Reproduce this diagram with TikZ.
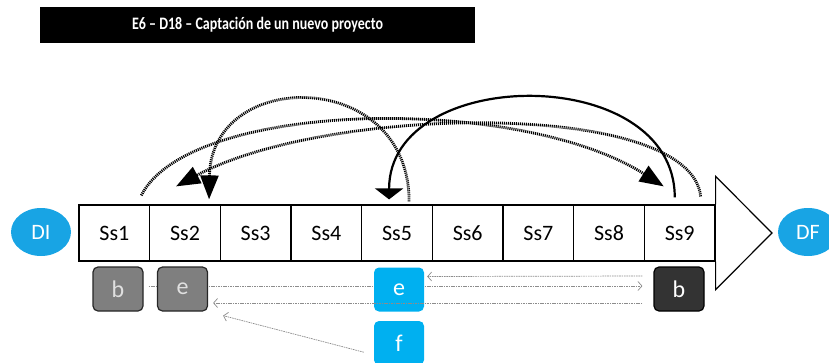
\documentclass[tikz,border=0pt]{standalone}
\usepackage{fontspec}
\setmainfont{Carlito}
\usepackage{tikz}
\usetikzlibrary{arrows.meta,shapes.geometric,backgrounds}
\definecolor{skyblue}{HTML}{00B0F0}
\definecolor{ovalblue}{HTML}{18A4E4}
\definecolor{boxgray}{HTML}{7F7F7F}
\definecolor{boxdark}{HTML}{333333}
\definecolor{linkgray}{HTML}{8C8C8C}

\begin{document}
\begin{tikzpicture}[x=1pt,y=-1pt,
  every node/.style={font=\fontsize{22}{26}\selectfont, inner sep=0pt},
  cell/.style={draw, line width=1.2pt, minimum width=70.67pt, minimum height=56pt},
  ends/.style={ellipse, fill=ovalblue, text=white,
    minimum width=60pt, minimum height=48pt},
  tag/.style={rounded corners=5pt, minimum width=50pt, minimum height=44pt,
    text=white, font=\fontsize{24}{28}\selectfont},
  graybox/.style={tag, draw=black!85, line width=1.2pt, fill=boxgray, text=black!12},
  darkbox/.style={tag, draw=black, line width=1.2pt, fill=boxdark},
  bluebox/.style={tag, fill=skyblue},
  link/.style={draw=linkgray, line width=0.7pt, dash pattern=on 1.6pt off 0.8pt,
    -{Straight Barb[length=4pt,width=9pt]}},
  flow/.style={line width=2.8pt, dash pattern=on 1.1pt off 0.9pt,
    -{Triangle[length=24pt,width=18pt]}},
  backflow/.style={line width=2.2pt, -{Triangle[length=11pt,width=28pt]}}]
  \useasboundingbox (0,0) rectangle (829,362);
  \node[fill=black, text=white, minimum width=435pt, minimum height=36pt,
    font=\fontsize{17.5}{20}\selectfont\bfseries] (title) at (257.5,25)
    {\scalebox{0.8}[1]{E6 – D18 – Captación de un nuevo proyecto}};
  \foreach \i in {1,...,9}
    \node[cell] (s\i) at ({79+70.67*(\i-0.5)},233) {Ss\i};
  \coordinate (tip) at (772,233);
  \draw[line width=1.2pt] (s9.north east) -- ++(0,-28) -- (tip)
    -- ([yshift=-28pt]s9.south east) -- (s9.south east);
  \node[ends] (di) at (41,232) {DI};
  \node[ends] (df) at (808,232) {DF};
  \node[graybox] (b1) at (118,289) {b};
  \node[graybox] (e1) at (182.5,289) {e};
  \node[bluebox] (e2) at (399,289.5) {e};
  \node[bluebox] (f) at (399,343) {f};
  \node[darkbox] (b3) at (679,289) {b};
  \begin{scope}[on background layer]
    \draw[link] ([xshift=5pt,yshift=3pt]b1.east) -- ([xshift=-11pt,yshift=3pt]b3.west);
  \end{scope}
  \draw[link] ([xshift=-11pt,yshift=13pt]b3.west) -- ([xshift=3pt,yshift=13pt]e2.east);
  \draw[link] ([xshift=-11pt,yshift=-14pt]b3.west) -- ([xshift=5pt,yshift=-14pt]e1.east);
  \draw[link] ([xshift=-10pt,yshift=13pt]f.south west) -- ([xshift=15pt,yshift=-4pt]e1.south east);
  \draw[flow] ([xshift=-9pt,yshift=9pt]s1.north east)
    .. controls +(49,-96) and +(-145,-92) .. ([xshift=20pt,yshift=18pt]s9.north west);
  \draw[flow] ([xshift=-15pt,yshift=8pt]s9.north east)
    .. controls +(-10,-97) and +(153,-82) .. ([xshift=27pt,yshift=18pt]s2.north west);
  \draw[flow] ([xshift=48pt,yshift=3pt]s5.north west)
    .. controls +(0,-134) and +(2,-132) .. ([xshift=60pt,yshift=5pt]s2.north west);
  \draw[backflow] ([xshift=31pt,yshift=7pt]s9.north west)
    .. controls +(0,-135) and +(0,-135) .. ([xshift=28pt,yshift=5pt]s5.north west);
\end{tikzpicture}
\end{document}
